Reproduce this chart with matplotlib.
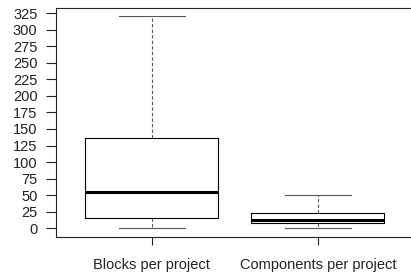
import matplotlib
matplotlib.use("Agg")
import matplotlib.pyplot as plt

plt.rcParams['font.family'] = ['Liberation Sans', 'DejaVu Sans']

labels = ["Blocks per project", "Components per project"]
whislo = [0, 1]
q1 = [15, 8]
med = [54, 12]
q3 = [137, 23]
whishi = [320, 50]
yticks = list(range(0, 326, 25))

fig = plt.figure(figsize=(4.11, 2.76), dpi=100)
ax = fig.add_axes([55.5/411, 39.3/276, 358.6/411, 228.7/276])

stats = [dict(label=l, whislo=a, q1=b, med=c, q3=d, whishi=e, fliers=[])
         for l, a, b, c, d, e in zip(labels, whislo, q1, med, q3, whishi)]
ax.bxp(stats, positions=[1, 2], widths=0.8, showfliers=False,
       boxprops=dict(color='black', linewidth=0.8),
       medianprops=dict(color='black', linewidth=2.2, solid_capstyle='butt'),
       whiskerprops=dict(color='#555555', linewidth=0.8, linestyle=(0, (3, 2))),
       capprops=dict(color='#555555', linewidth=0.8), capwidths=0.4)

ax.set_xlim(0.42, 2.58)
ax.set_ylim(-12.8, 332.8)
ax.set_yticks(yticks)
ax.set_yticklabels([str(v) for v in yticks])
ax.set_xticks([1, 2])
ax.set_xticklabels(labels)
ax.tick_params(axis='y', length=7, width=0.8, pad=6, labelsize=10.5, colors='#222222')
ax.tick_params(axis='x', length=6, width=0.8, pad=9, labelsize=10.5, colors='#222222')
for s in ax.spines.values():
    s.set_linewidth(0.8)
    s.set_color('#222222')
ax.spines['right'].set_visible(False)

fig.savefig("out.png", dpi=100)
